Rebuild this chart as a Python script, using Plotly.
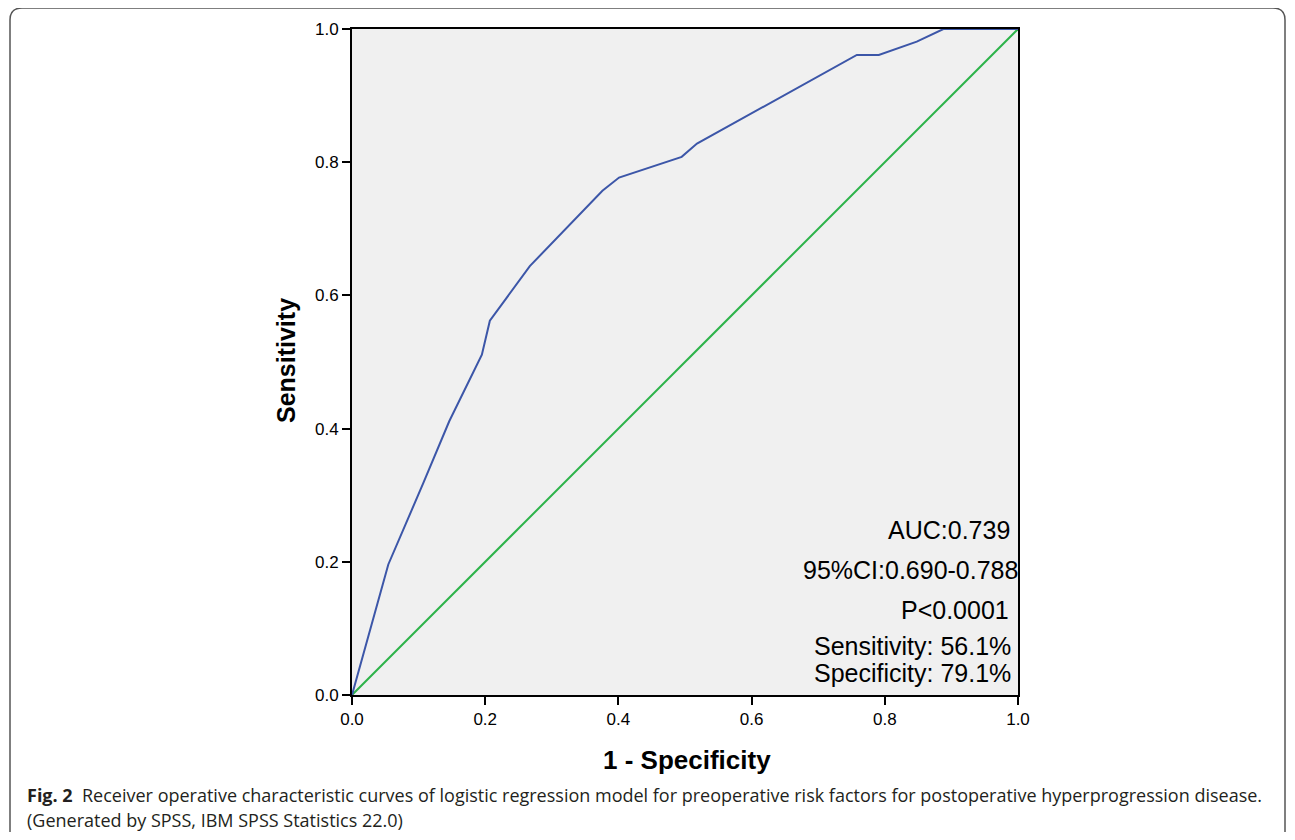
import plotly.graph_objects as go

# ---- data ----
fpr = [0.0, 0.0545, 0.107, 0.146, 0.195, 0.207, 0.267, 0.376, 0.401, 0.495, 0.518, 0.758, 0.791, 0.848, 0.888, 1.0]
tpr = [0.0, 0.196, 0.318, 0.411, 0.511, 0.562, 0.644, 0.757, 0.777, 0.808, 0.828, 0.961, 0.961, 0.981, 1.0, 1.0]
ref_x = [0.0, 1.0]
ref_y = [0.0, 1.0]
tick_vals = [0.0, 0.2, 0.4, 0.6, 0.8, 1.0]
tick_text = ["0.0", "0.2", "0.4", "0.6", "0.8", "1.0"]
stats_lines = ["AUC:0.739", "95%CI:0.690-0.788", "P<0.0001", "Sensitivity: 56.1%", "Specificity: 79.1%"]
caption_bold = "Fig. 2"
caption_1 = "Receiver operative characteristic curves of logistic regression model for preoperative risk factors for postoperative hyperprogression disease."
caption_2 = "(Generated by SPSS, IBM SPSS Statistics 22.0)"

OFF = 8  # page body margin
W, H = 1295 - 2 * OFF, 840 - 2 * OFF
L, T = 352 - OFF, 29 - OFF
PW, PH = 666, 666
R, B = W - L - PW, H - T - PH


def px(xs):
    # screen x pixel -> paper coordinate
    return (xs - OFF - L) / PW


def py(ys):
    # screen y pixel -> paper coordinate
    return (T + PH - (ys - OFF)) / PH


AXFONT = "Liberation Sans, Arial, sans-serif"

fig = go.Figure()
fig.add_trace(go.Scatter(x=ref_x, y=ref_y, mode="lines",
                         line=dict(color="#2DB34A", width=2), showlegend=False, hoverinfo="skip"))
fig.add_trace(go.Scatter(x=fpr, y=tpr, mode="lines",
                         line=dict(color="#3C56A8", width=2), showlegend=False))

axis_common = dict(range=[0, 1], tickvals=tick_vals, ticktext=tick_text, showgrid=False, zeroline=False,
                   showline=True, linecolor="black", linewidth=2, mirror=True,
                   ticks="outside", ticklen=8, tickwidth=2, tickcolor="black",
                   tickfont=dict(family=AXFONT, size=17, color="black"))
fig.update_xaxes(**axis_common)
fig.update_yaxes(**axis_common)

annotations = []
stat_y = [530, 570, 610, 646, 673]
stat_x = [1012, 1020, 1011, 1013, 1013]
for txt, yy, xx in zip(stats_lines, stat_y, stat_x):
    annotations.append(dict(text=txt, xref="paper", yref="paper", x=px(xx), y=py(yy),
                            xanchor="right", yanchor="middle", showarrow=False,
                            font=dict(family=AXFONT, size=25, color="black")))

annotations.append(dict(text="<b>1 - Specificity</b>", xref="paper", yref="paper", x=px(687), y=py(760),
                        xanchor="center", yanchor="middle", showarrow=False,
                        font=dict(family=AXFONT, size=26, color="black")))
annotations.append(dict(text="<b>Sensitivity</b>", xref="paper", yref="paper", x=px(286), y=py(361),
                        xanchor="center", yanchor="middle", showarrow=False, textangle=-90,
                        font=dict(family=AXFONT, size=25, color="black")))

CAPFONT = "Open Sans, Noto Sans, sans-serif"
annotations.append(dict(text="<b>" + caption_bold + "</b>  " + caption_1, xref="paper", yref="paper",
                        x=px(25), y=py(795), xanchor="left", yanchor="middle", showarrow=False,
                        font=dict(family=CAPFONT, size=18, color="#231F20")))
annotations.append(dict(text=caption_2, xref="paper", yref="paper",
                        x=px(25), y=py(820), xanchor="left", yanchor="middle", showarrow=False,
                        font=dict(family=CAPFONT, size=18, color="#231F20")))

# outer rounded frame (open at the bottom)
x0, x1, y0, y1, r = px(10), px(1285), py(8), py(860), 12
rx, ry = r / PW, r / PH
path = (f"M {x0} {y1} L {x0} {y0 - ry} Q {x0} {y0} {x0 + rx} {y0} "
        f"L {x1 - rx} {y0} Q {x1} {y0} {x1} {y0 - ry} L {x1} {y1}")
shapes = [dict(type="path", xref="paper", yref="paper", path=path,
               line=dict(color="#555555", width=1.5))]

fig.update_layout(width=W, height=H, margin=dict(l=L, r=R, t=T, b=B),
                  plot_bgcolor="#F0F0F0", paper_bgcolor="white",
                  annotations=annotations, shapes=shapes, showlegend=False)

fig.write_html("out.html")
